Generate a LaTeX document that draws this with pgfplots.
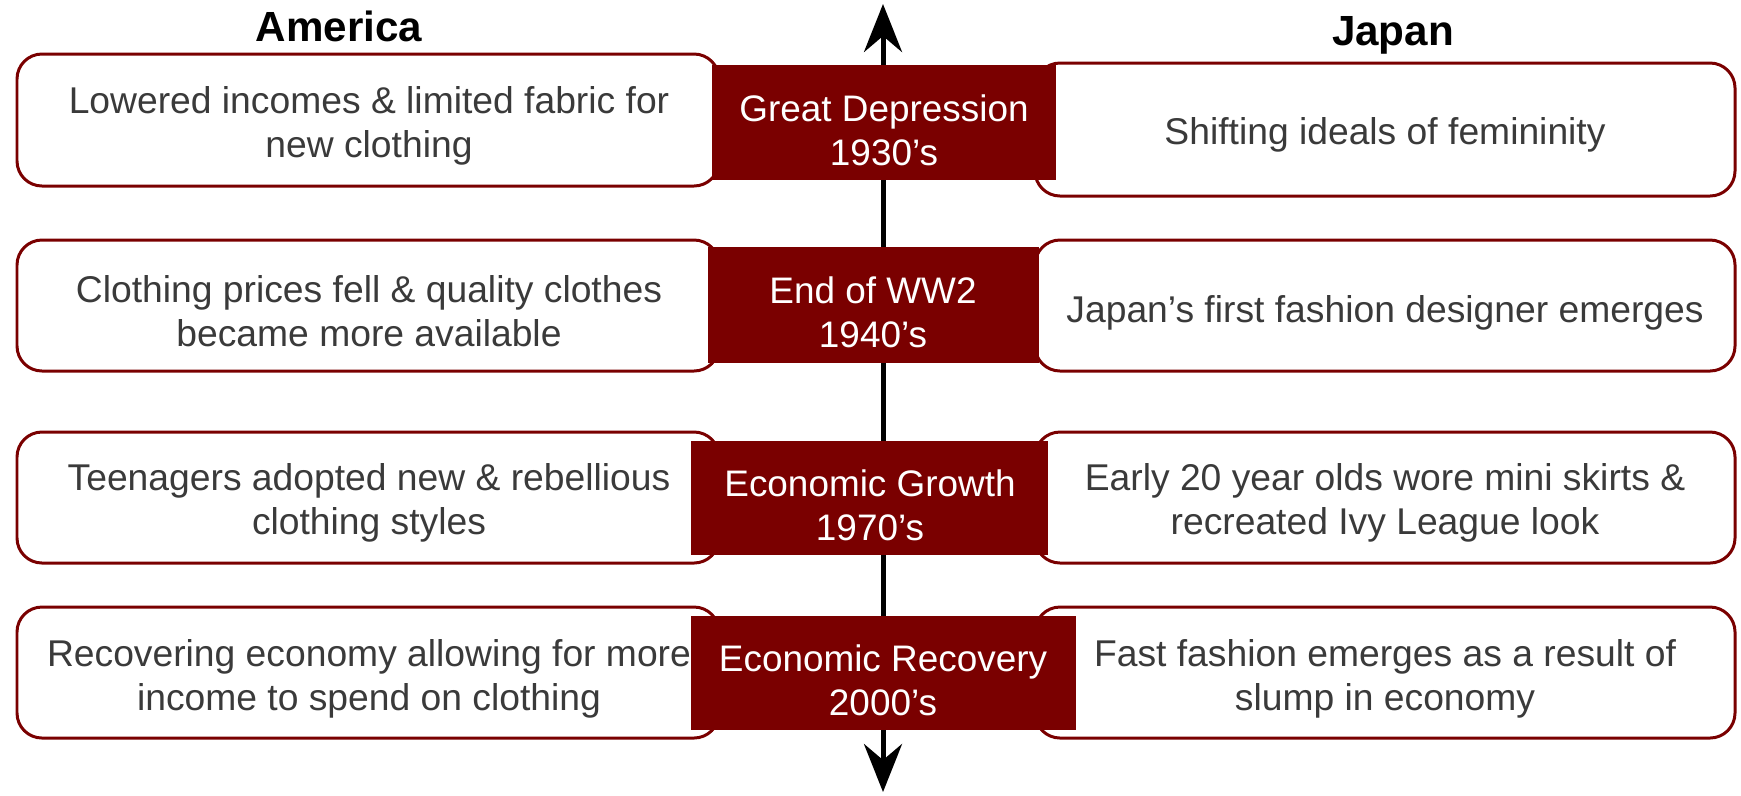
\documentclass[border=0pt]{standalone}
\usepackage{pgfplots}
\pgfplotsset{compat=1.18}
\usepackage{fontspec}
\setmainfont{Liberation Sans}
\usetikzlibrary{arrows.meta}
\definecolor{darkred}{HTML}{7A0000}
\definecolor{txt}{HTML}{3A3A3A}
\begin{document}
\begin{tikzpicture}
\begin{axis}[
  width=174.1mm, height=79.5mm, scale only axis,
  xmin=0, xmax=1741, ymin=0, ymax=795, y dir=reverse,
  hide axis, clip=false,
]
% timeline arrow
\addplot[line width=0.5mm, black, {Stealth[length=4.8mm,width=3.8mm,inset=1.6mm]}-{Stealth[length=4.8mm,width=3.8mm,inset=1.6mm]}] coordinates {(883,4) (883,792)};
% headers
\node[font=\bfseries\fontsize{12}{14}\selectfont] at (axis cs:339,26) {America};
\node[font=\bfseries\fontsize{12}{14}\selectfont] at (axis cs:1393,35) {Japan};
% white boxes
\tikzset{wbox/.style={draw=darkred, fill=white, line width=0.85pt, rounded corners=2.5mm}}
\draw[wbox] (axis cs:17,54) rectangle (axis cs:719,186);
\draw[wbox] (axis cs:17,240) rectangle (axis cs:719,371);
\draw[wbox] (axis cs:17,432) rectangle (axis cs:719,563);
\draw[wbox] (axis cs:17,607) rectangle (axis cs:719,738);
\draw[wbox] (axis cs:1035,63) rectangle (axis cs:1735,196);
\draw[wbox] (axis cs:1035,240) rectangle (axis cs:1735,371);
\draw[wbox] (axis cs:1035,432) rectangle (axis cs:1735,563);
\draw[wbox] (axis cs:1035,607) rectangle (axis cs:1735,738);
% red boxes
\tikzset{rbox/.style={fill=darkred, draw=none}}
\fill[rbox] (axis cs:712,65) rectangle (axis cs:1056,180);
\fill[rbox] (axis cs:708,247) rectangle (axis cs:1039,363);
\fill[rbox] (axis cs:691,441) rectangle (axis cs:1048,555);
\fill[rbox] (axis cs:691,616) rectangle (axis cs:1076,730);
% texts
\tikzset{bt/.style={text=txt, align=center, inner sep=0pt, font=\fontsize{10.6}{12.5}\selectfont},
         rt/.style={text=white, align=center, inner sep=0pt, font=\fontsize{10.5}{12.5}\selectfont}}
\node[bt] at (axis cs:369,126) {Lowered incomes \& limited fabric for\\new clothing};
\node[bt] at (axis cs:369,311) {Clothing prices fell \& quality clothes\\became more available};
\node[bt] at (axis cs:369,503) {Teenagers adopted new \& rebellious\\clothing styles};
\node[bt] at (axis cs:369,679) {Recovering economy allowing for more\\income to spend on clothing};
\node[bt] at (axis cs:1385,135) {Shifting ideals of femininity};
\node[bt] at (axis cs:1385,313) {Japan’s first fashion designer emerges};
\node[bt] at (axis cs:1385,503) {Early 20 year olds wore mini skirts \&\\recreated Ivy League look};
\node[bt] at (axis cs:1385,679) {Fast fashion emerges as a result of\\slump in economy};
\node[rt] at (axis cs:884,130) {Great Depression\\1930’s};
\node[rt] at (axis cs:873,312) {End of WW2\\1940’s};
\node[rt] at (axis cs:870,505) {Economic Growth\\1970’s};
\node[rt] at (axis cs:883,680) {Economic Recovery\\2000’s};
\end{axis}
\pgfresetboundingbox
\path (current axis.south west) rectangle (current axis.north east);
\end{tikzpicture}
\end{document}
